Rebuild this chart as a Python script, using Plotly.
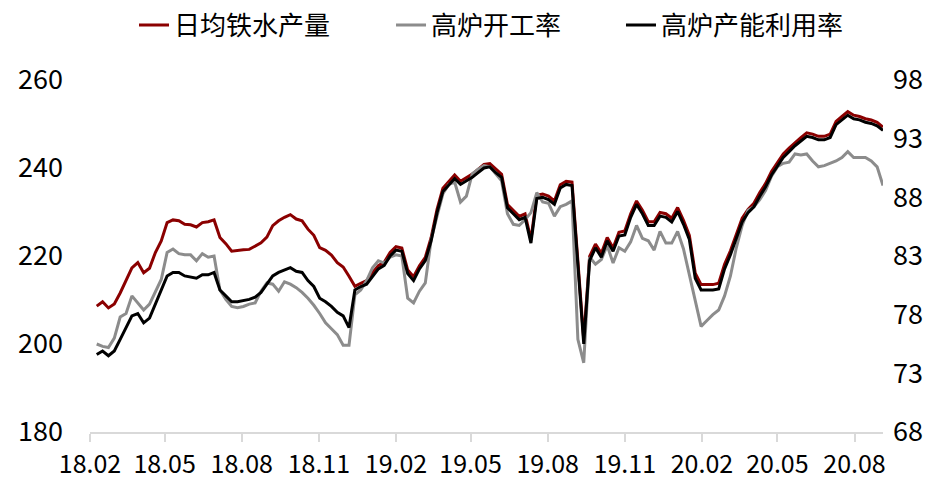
import pandas as pd
import plotly.graph_objects as go

# weekly observations, first week ending 2018-02-09
dates = pd.date_range("2018-02-09", periods=135, freq="7D")

tick_vals = ["2018-02-01", "2018-05-01", "2018-08-01", "2018-11-01", "2019-02-01",
             "2019-05-01", "2019-08-01", "2019-11-01", "2020-02-01", "2020-05-01",
             "2020-08-01"]
tick_text = ["18.02", "18.05", "18.08", "18.11", "19.02", "19.05", "19.08",
             "19.11", "20.02", "20.05", "20.08"]

# 日均铁水产量 (万吨, left axis)
hot_metal = [
    208.6, 209.6, 208.2, 209.1, 211.6, 214.3, 217.3, 218.5, 216.2, 217.2,
    220.8, 223.4, 227.6, 228.2, 228.0, 227.2, 227.1, 226.6, 227.6, 227.8,
    228.2, 224.2, 222.8, 221.1, 221.3, 221.4, 221.5, 222.2, 223.0, 224.3,
    226.9, 228.0, 228.8, 229.4, 228.4, 228.0, 226.1, 224.7, 221.9, 221.3,
    220.2, 218.5, 217.5, 215.4, 213.1, 213.8, 214.4, 216.2, 217.8, 218.6,
    220.8, 222.1, 221.8, 216.8, 215.3, 217.8, 219.7, 224.2, 230.6, 235.4,
    237.0, 238.4, 237.0, 237.8, 238.6, 239.7, 240.8, 241.0, 239.7, 238.6,
    231.7, 230.4, 229.0, 229.6, 223.7, 233.8, 234.1, 233.6, 232.5, 236.2,
    237.0, 236.8, 219.9, 201.0, 219.9, 222.7, 220.6, 224.2, 221.8, 225.4,
    225.7, 229.6, 232.5, 230.4, 227.8, 227.8, 229.9, 229.6, 228.6, 231.0,
    228.1, 224.7, 216.1, 213.5, 213.5, 213.5, 213.8, 218.1, 221.2, 225.1,
    228.6, 230.6, 232.0, 234.4, 236.5, 239.2, 241.3, 243.2, 244.5, 245.8,
    246.9, 248.0, 247.7, 247.2, 247.2, 247.7, 250.6, 251.7, 252.8, 252.0,
    251.7, 251.2, 250.9, 250.4, 249.3,
]

# 高炉开工率 (%, right axis)
bf_operating = [
    75.5, 75.3, 75.2, 76.0, 77.8, 78.1, 79.6, 79.0, 78.4, 78.9,
    80.0, 81.0, 83.3, 83.6, 83.2, 83.1, 83.1, 82.6, 83.2, 82.9,
    83.0, 80.1, 79.3, 78.7, 78.6, 78.7, 78.9, 79.0, 80.0, 80.7,
    80.6, 80.0, 80.8, 80.6, 80.3, 79.9, 79.4, 78.8, 78.1, 77.3,
    76.8, 76.3, 75.4, 75.4, 79.7, 80.1, 80.9, 82.0, 82.6, 82.4,
    82.9, 83.1, 83.0, 79.4, 79.0, 80.0, 80.7, 84.4, 86.4, 88.3,
    89.1, 89.3, 87.6, 88.1, 90.0, 90.4, 90.7, 90.6, 90.0, 89.4,
    86.6, 85.7, 85.6, 86.1, 86.7, 88.4, 87.6, 87.5, 86.4, 87.2,
    87.4, 87.7, 75.9, 73.9, 82.9, 82.3, 82.7, 83.9, 82.4, 83.7,
    83.4, 84.2, 85.6, 84.5, 84.3, 83.5, 85.1, 84.1, 84.1, 85.1,
    83.6, 81.4, 79.2, 77.0, 77.5, 78.0, 78.4, 79.6, 81.3, 83.7,
    85.6, 86.9, 87.2, 87.8, 88.6, 89.8, 90.6, 90.9, 91.0, 91.7,
    91.6, 91.7, 91.1, 90.6, 90.7, 90.9, 91.1, 91.4, 91.9, 91.4,
    91.4, 91.4, 91.1, 90.6, 89.0,
]

# 高炉产能利用率 (%, right axis)
bf_capacity = [
    74.6, 74.9, 74.5, 74.9, 75.9, 76.9, 77.9, 78.1, 77.3, 77.7,
    78.9, 80.1, 81.3, 81.6, 81.6, 81.3, 81.2, 81.1, 81.4, 81.4,
    81.6, 80.1, 79.6, 79.1, 79.1, 79.2, 79.3, 79.5, 79.9, 80.6,
    81.3, 81.6, 81.8, 82.0, 81.7, 81.6, 80.9, 80.4, 79.4, 79.1,
    78.7, 78.2, 77.9, 76.9, 80.1, 80.4, 80.6, 81.3, 81.9, 82.2,
    83.0, 83.5, 83.4, 81.5, 80.9, 81.9, 82.6, 84.3, 86.7, 88.5,
    89.1, 89.6, 89.1, 89.4, 89.7, 90.1, 90.5, 90.6, 90.1, 89.7,
    87.1, 86.6, 86.1, 86.3, 84.1, 87.9, 88.0, 87.8, 87.4, 88.8,
    89.1, 89.0, 82.6, 75.5, 82.6, 83.7, 82.9, 84.3, 83.4, 84.7,
    84.8, 86.3, 87.4, 86.6, 85.6, 85.6, 86.4, 86.3, 85.9, 86.8,
    85.7, 84.4, 81.1, 80.1, 80.1, 80.1, 80.2, 81.9, 83.1, 84.6,
    85.9, 86.7, 87.2, 88.1, 88.9, 89.9, 90.7, 91.4, 91.9, 92.4,
    92.8, 93.2, 93.1, 92.9, 92.9, 93.1, 94.2, 94.6, 95.0, 94.7,
    94.6, 94.4, 94.3, 94.1, 93.7,
]

FONT = "Noto Sans CJK SC"

fig = go.Figure()
fig.add_trace(go.Scatter(x=dates, y=hot_metal, name="日均铁水产量", mode="lines",
                         line=dict(color="#8B0000", width=3), yaxis="y", legend="legend"))
fig.add_trace(go.Scatter(x=dates, y=bf_operating, name="高炉开工率", mode="lines",
                         line=dict(color="#8C8C8C", width=3), yaxis="y2", legend="legend2"))
fig.add_trace(go.Scatter(x=dates, y=bf_capacity, name="高炉产能利用率", mode="lines",
                         line=dict(color="#000000", width=3), yaxis="y2", legend="legend3"))

leg_common = dict(orientation="h", yanchor="middle", y=1.156, xanchor="left",
                  font=dict(family=FONT, size=26, color="#000"),
                  bgcolor="rgba(0,0,0,0)", borderwidth=0)

fig.update_layout(
    width=948, height=481,
    margin=dict(l=90, r=65, t=80, b=49, autoexpand=False),
    paper_bgcolor="white", plot_bgcolor="white",
    font=dict(family=FONT, size=26, color="#000"),
    showlegend=True,
    legend=dict(leg_common, x=0.0555),
    legend2=dict(leg_common, x=0.3796),
    legend3=dict(leg_common, x=0.6696),
    xaxis=dict(
        type="date", range=["2018-02-01", "2020-09-04"],
        tickmode="array", tickvals=tick_vals, ticktext=tick_text,
        showgrid=False, zeroline=False,
        showline=True, linecolor="#D9D9D9", linewidth=2,
        ticks="outside", ticklen=8, tickcolor="#D9D9D9", tickwidth=2,
        tickfont=dict(family=FONT, size=25, color="#000"),
        ticklabelstandoff=1,
    ),
    yaxis=dict(
        range=[180, 260], dtick=20, tick0=180,
        showgrid=False, zeroline=False, showline=False, ticks="",
        tickfont=dict(family=FONT, size=27, color="#000"),
        ticklabelstandoff=26,
    ),
    yaxis2=dict(
        range=[68, 98], dtick=5, tick0=68, overlaying="y", side="right",
        showgrid=False, zeroline=False, showline=False, ticks="",
        tickfont=dict(family=FONT, size=27, color="#000"),
        ticklabelstandoff=9,
    ),
)

fig.write_html("out.html")
